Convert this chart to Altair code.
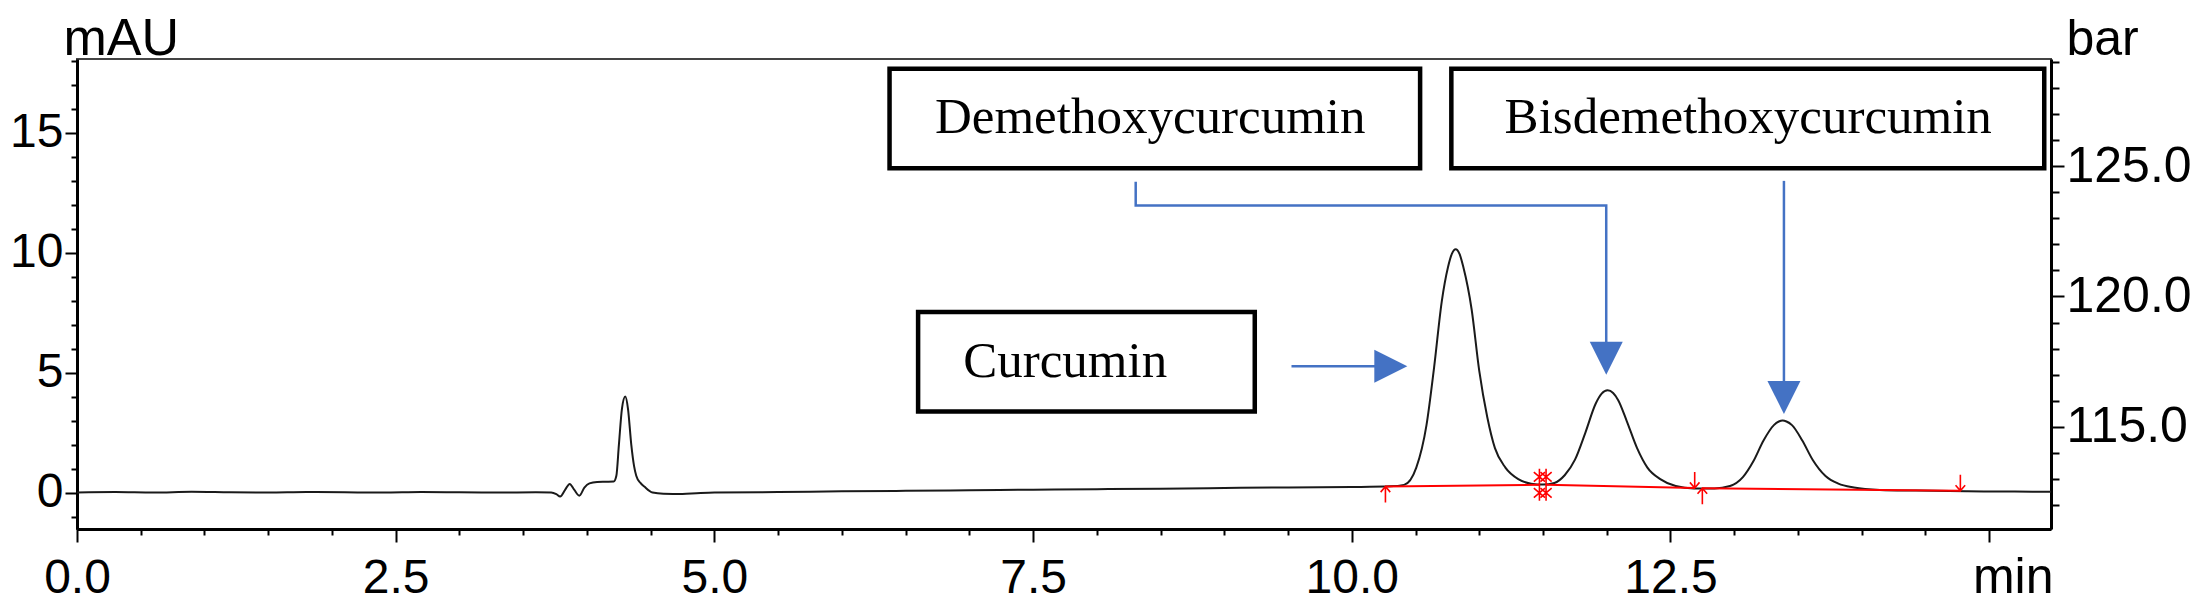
import altair as alt
import pandas as pd

# ---- chromatogram trace (time in min, absorbance in mAU) ----
TIME = [0.0, 0.3, 0.6, 0.9, 1.2, 1.5, 1.8, 2.1, 2.4, 2.7, 3.0, 3.3, 3.6, 3.72,
        3.76, 3.79, 3.83, 3.865, 3.90, 3.94, 3.98, 4.02, 4.08, 4.15, 4.21,
        4.231, 4.251, 4.275, 4.301, 4.322, 4.348, 4.37, 4.387, 4.42, 4.45,
        4.515, 4.6, 4.75, 4.86, 5.0, 5.5, 6.0, 6.5, 7.0, 7.5, 8.0, 8.5, 9.0,
        9.5, 10.0, 10.3, 10.41, 10.506, 10.586, 10.646, 10.706, 10.755, 10.785,
        10.815, 10.845, 10.875, 10.94, 11.0, 11.063, 11.123, 11.205, 11.306,
        11.407, 11.5, 11.589, 11.67, 11.751, 11.832, 11.913, 11.96, 12.007,
        12.05, 12.09, 12.157, 12.238, 12.319, 12.42, 12.541, 12.683, 12.845,
        12.967, 13.068, 13.149, 13.23, 13.311, 13.35, 13.38, 13.41, 13.453,
        13.534, 13.615, 13.716, 13.817, 13.939, 14.142, 14.425, 14.83, 15.2,
        15.485]
MAU = [0.0, 0.02, 0.0, 0.03, 0.01, 0.0, 0.02, 0.01, 0.0, 0.02, 0.01, 0.0, 0.01, 0.0,
       -0.07, -0.17, 0.12, 0.36, 0.12, -0.13, 0.2, 0.38, 0.44, 0.45, 0.46,
       0.7, 2.0, 3.5, 4.0, 3.5, 2.0, 1.1, 0.7, 0.4, 0.25,
       0.0, -0.05, -0.06, -0.03, 0.0, 0.02, 0.05, 0.07, 0.09, 0.12, 0.14, 0.16, 0.19,
       0.21, 0.23, 0.26, 0.32, 1.04, 2.81, 5.23, 7.97, 9.4, 9.95,
       10.14, 9.95, 9.4, 7.64, 5.07, 3.14, 1.85, 1.04, 0.56,
       0.37, 0.33, 0.40, 0.72, 1.37, 2.49, 3.70, 4.12, 4.26,
       4.15, 3.85, 2.98, 1.85, 1.04, 0.56, 0.27, 0.17, 0.17,
       0.27, 0.64, 1.29, 2.17, 2.81, 2.96, 3.0, 2.96, 2.81,
       2.17, 1.37, 0.69, 0.37, 0.21, 0.11, 0.08, 0.05, 0.04,
       0.03]

# ---- integration baselines (red) ----
BASE_SEG = [1, 1, 2, 2, 3, 3]
BASE_T = [10.264, 11.472, 11.524, 12.69, 12.75, 14.774]
BASE_V = [0.25, 0.32, 0.32, 0.19, 0.18, 0.07]

# ---- peak start / end markers ----
MARK_T = [10.264, 11.472, 11.524, 12.69, 12.75, 14.774]
MARK_V = [0.25, 0.32, 0.32, 0.19, 0.18, 0.07]
MARK_KIND = ["up", "cross", "cross", "down", "up", "down"]

# ---- annotation boxes and labels (data units) ----
LABELS = ["Curcumin", "Demethoxycurcumin", "Bisdemethoxycurcumin"]
BOX_T1 = [6.598, 6.374, 10.781]
BOX_T2 = [9.239, 10.536, 15.432]
BOX_V1 = [7.52, 17.66, 17.66]
BOX_V2 = [3.38, 13.52, 13.52]
LABEL_T = [7.752, 8.419, 13.110]
LABEL_V = [4.83, 14.97, 14.97]

# ---- blue arrows ----
ARROW_ID = [0, 0, 1, 1, 1, 1, 2, 2]
ARROW_T = [9.527, 10.20, 8.305, 8.305, 11.996, 11.996, 13.390, 13.390]
ARROW_V = [5.265, 5.265, 12.957, 11.962, 11.962, 6.0, 12.99, 4.5]
HEAD_T = [10.306, 11.996, 13.390]
HEAD_V = [5.265, 5.593, 3.965]
HEAD_DIR = ["right", "down", "down"]

# ---- axes ----
X_DOMAIN = [0.0, 15.485]
Y_DOMAIN = [-1.52, 18.07]
BAR_DOMAIN = [111.08, 129.11]
X_TICKS = [i * 0.5 for i in range(31)]
Y_TICKS = list(range(-1, 19))
BAR_TICKS = list(range(112, 130))

SHAPES = {
    "up": "M0,0L0,2M-0.6,0.7L0,0L0.6,0.7",
    "down": "M0,0L0,-2M-0.6,-0.7L0,0L0.6,-0.7",
    "cross": "M0,-2L0,2M-0.7,-1.6L0.7,-0.4M0.7,-1.6L-0.7,-0.4M-0.7,0.4L0.7,1.6M0.7,0.4L-0.7,1.6",
    "right": "M-1,-1L1,0L-1,1Z",
    "down_tri": "M-1,-1L1,-1L0,1Z",
}

trace_df = pd.DataFrame({"t": TIME, "v": MAU})
base_df = pd.DataFrame({"seg": BASE_SEG, "t": BASE_T, "v": BASE_V})
mark_df = pd.DataFrame({"t": MARK_T, "v": MARK_V,
                        "shape": [SHAPES[k] for k in MARK_KIND]})
box_df = pd.DataFrame({"t": BOX_T1, "t2": BOX_T2, "v": BOX_V1, "v2": BOX_V2})
label_df = pd.DataFrame({"t": LABEL_T, "v": LABEL_V, "label": LABELS})
arrow_df = pd.DataFrame({"id": ARROW_ID, "t": ARROW_T, "v": ARROW_V,
                         "i": list(range(len(ARROW_ID)))})
head_df = pd.DataFrame({"t": HEAD_T, "v": HEAD_V,
                        "shape": [SHAPES["right"] if d == "right" else SHAPES["down_tri"]
                                  for d in HEAD_DIR]})
bar_df = pd.DataFrame({"t": [0.0, 0.0], "p": BAR_DOMAIN})

FONT = "Liberation Sans"
BLUE = "#4472C4"

X = alt.X(
    "t:Q",
    scale=alt.Scale(domain=X_DOMAIN, nice=False, zero=False),
    axis=alt.Axis(
        values=X_TICKS,
        labelExpr="datum.value % 2.5 === 0 && datum.value < 15 ? format(datum.value, '.1f') : ''",
        tickSize={"condition": {"test": "datum.value % 2.5 === 0", "value": 13}, "value": 6},
        labelPadding=50, labelBaseline="alphabetic", labelFontSize=48,
        labelFlush=False, labelOverlap=False, grid=False,
        title="min", titleAnchor="start", titleAlign="right", titleBaseline="alphabetic",
        titleX=1976, titleY=63, titleFontSize=50, titleFontWeight="normal",
    ),
)
Y = alt.Y(
    "v:Q",
    scale=alt.Scale(domain=Y_DOMAIN, nice=False, zero=False),
    axis=alt.Axis(
        values=Y_TICKS,
        labelExpr="datum.value % 5 === 0 ? datum.label : ''",
        tickSize={"condition": {"test": "datum.value % 5 === 0", "value": 12}, "value": 6},
        labelPadding=2, labelBaseline="middle", labelFontSize=48,
        labelFlush=False, labelOverlap=False, grid=False,
        title="mAU", titleAngle=0, titleAlign="left", titleBaseline="alphabetic",
        titleX=-14, titleY=-5, titleFontSize=52, titleFontWeight="normal",
    ),
)

trace = alt.Chart(trace_df).mark_line(
    color="#1a1a1a", strokeWidth=2, interpolate="monotone"
).encode(x=X, y=Y)

base = alt.Chart(base_df).mark_line(color="#ff0000", strokeWidth=2).encode(
    x=X, y=Y, detail="seg:N"
)

markers = alt.Chart(mark_df).mark_point(
    filled=False, color="#ff0000", strokeWidth=1.6, opacity=1, size=256
).encode(x=X, y=Y, shape=alt.Shape("shape:N", scale=None))

boxes = alt.Chart(box_df).mark_rect(
    fill="white", stroke="black", strokeWidth=4.5
).encode(x=X, x2="t2:Q", y=Y, y2="v2:Q")

labels = alt.Chart(label_df).mark_text(
    font="Liberation Serif", fontSize=51, align="center", baseline="alphabetic",
    color="black"
).encode(x=X, y=Y, text="label:N")

arrows = alt.Chart(arrow_df).mark_line(color=BLUE, strokeWidth=2.5).encode(
    x=X, y=Y, detail="id:N", order="i:Q"
)

heads = alt.Chart(head_df).mark_point(
    filled=True, color=BLUE, opacity=1, size=1089, strokeWidth=0
).encode(x=X, y=Y, shape=alt.Shape("shape:N", scale=None))

inner = alt.layer(trace, base, markers, boxes, labels, arrows, heads)

bar = alt.Chart(bar_df).mark_point(opacity=0).encode(
    x=X,
    y=alt.Y(
        "p:Q",
        scale=alt.Scale(domain=BAR_DOMAIN, nice=False, zero=False),
        axis=alt.Axis(
            orient="right",
            values=BAR_TICKS,
            labelExpr="datum.value % 5 === 0 ? format(datum.value, '.1f') : ''",
            tickSize={"condition": {"test": "datum.value % 5 === 0", "value": 13}, "value": 8},
            labelPadding=2, labelBaseline="middle", labelFontSize=50,
            labelFlush=False, labelOverlap=False, grid=False,
            title="bar", titleAngle=0, titleAlign="left", titleBaseline="alphabetic",
            titleX=15, titleY=-5, titleFontSize=50, titleFontWeight="normal",
        ),
    ),
)

chart = alt.layer(inner, bar).resolve_scale(y="independent").properties(
    width=1974,
    height=470,
    autosize=alt.AutoSizeParams(type="none"),
    padding={"left": 69, "top": 51, "right": 150, "bottom": 76},
).configure_view(
    stroke="#444444", strokeWidth=2
).configure_axis(
    labelFont=FONT, titleFont=FONT, labelColor="black", titleColor="black",
    domainColor="black", domainWidth=3, tickColor="black", tickWidth=2,
)

chart.save("out.html", embed_options={"renderer": "svg", "actions": False})
